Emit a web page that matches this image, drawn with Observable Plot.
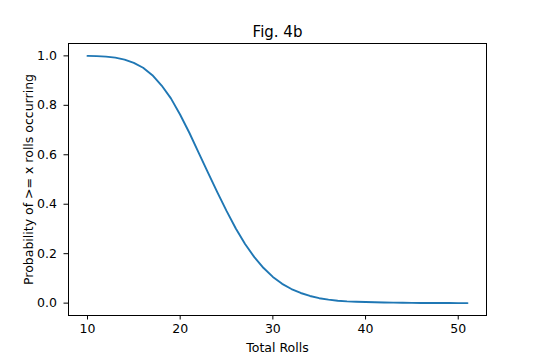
<!DOCTYPE html>
<html>
<head>
<meta charset="utf-8">
<script src="https://cdn.jsdelivr.net/npm/d3@7"></script>
<script src="https://cdn.jsdelivr.net/npm/@observablehq/plot@0.6"></script>
<style>
  html, body { margin: 0; padding: 0; background: #fff; }
</style>
</head>
<body>
<div id="chart"></div>
<script>
const rolls = [10,11,12,13,14,15,16,17,18,19,20,21,22,23,24,25,26,27,28,29,30,31,32,33,34,35,36,37,38,39,40,41,42,43,44,45,46,47,48,49,50,51];
const probability = [1.000,0.999,0.997,0.993,0.985,0.972,0.952,0.922,0.880,0.828,0.762,0.688,0.608,0.528,0.449,0.373,0.302,0.239,0.186,0.142,0.106,0.078,0.057,0.041,0.029,0.020,0.014,0.0095,0.007,0.0055,0.0045,0.0035,0.0027,0.002,0.0015,0.0011,0.0008,0.0006,0.0004,0.0003,0.0002,0.0001];
const xTicks = [10, 20, 30, 40, 50];
const yTicks = [0, 0.2, 0.4, 0.6, 0.8, 1.0];
const titleText = "Fig. 4b";
const xLabel = "Total Rolls";
const yLabel = "Probability of >= x rolls occurring";

const data = rolls.map((r, i) => ({r, p: probability[i]}));

const chart = Plot.plot({
  width: 540,
  height: 360,
  marginLeft: 68,
  marginRight: 54,
  marginTop: 43,
  marginBottom: 45,
  style: {fontFamily: "DejaVu Sans", fontSize: "12.5px", color: "#000", background: "#fff"},
  x: {domain: [7.95, 53.05]},
  y: {domain: [-0.05, 1.05]},
  marks: [
    Plot.axisX({ticks: xTicks, tickSize: 4.5, tickPadding: 4, label: null, tickFormat: d => String(d), fontSize: 12.5, stroke: "#000"}),
    Plot.axisY({ticks: yTicks, tickSize: 4.5, tickPadding: 7, label: null, tickFormat: d3.format(".1f"), fontSize: 12.5, stroke: "#000"}),
    Plot.line(data, {x: "r", y: "p", stroke: "#1f77b4", strokeWidth: 1.9}),
    Plot.frame({stroke: "#000", strokeWidth: 1}),
    Plot.text([titleText], {text: d => d, frameAnchor: "top", dy: -11.5, lineAnchor: "middle", textAnchor: "middle", fontSize: 15, fill: "#000"}),
    Plot.text([xLabel], {text: d => d, frameAnchor: "bottom", dy: 32, lineAnchor: "middle", textAnchor: "middle", fontSize: 12.5, fill: "#000"}),
    Plot.text([yLabel], {text: d => d, frameAnchor: "left", dx: -40, rotate: -90, lineAnchor: "middle", textAnchor: "middle", fontSize: 12.5, fill: "#000"})
  ]
});
document.getElementById("chart").appendChild(chart);
</script>
</body>
</html>
